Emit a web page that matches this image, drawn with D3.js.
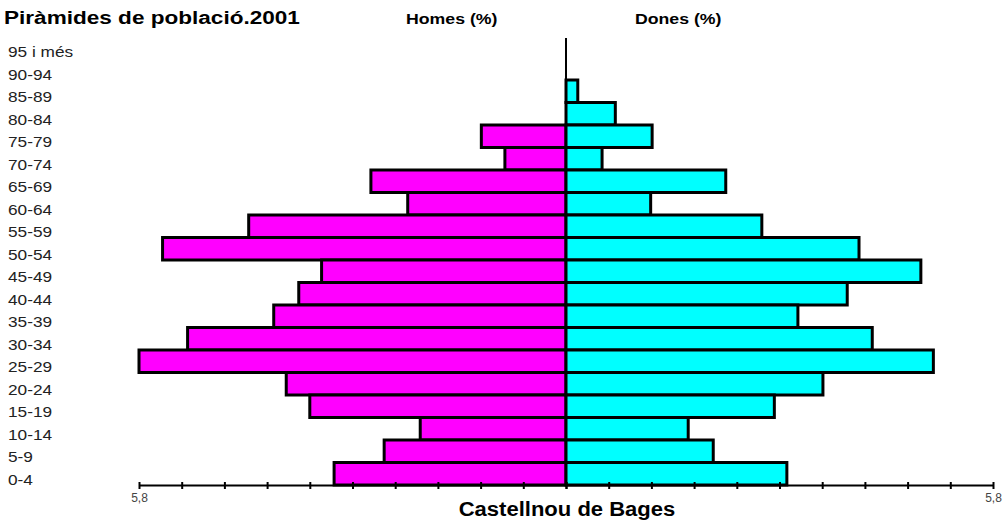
<!DOCTYPE html>
<html>
<head>
<meta charset="utf-8">
<script src="https://cdn.jsdelivr.net/npm/d3@7"></script>
<style>
  body { margin: 0; background: #fff; }
  text { font-family: "Liberation Sans", Arial, sans-serif; }
</style>
</head>
<body>
<div id="chart"></div>
<script>
"use strict"

// age groups, top to bottom
let ageGroups = ["95 i més", "90-94", "85-89", "80-84", "75-79", "70-74", "65-69", "60-64",
    "55-59", "50-54", "45-49", "40-44", "35-39", "30-34", "25-29", "20-24",
    "15-19", "10-14", "5-9", "0-4"];

// percentages, same order as ageGroups
let homes = [0, 0, 0, 0, 1.15, 0.83, 2.65, 2.15, 4.31, 5.48, 3.32, 3.63, 3.97, 5.14, 5.80, 3.80,
    3.48, 1.98, 2.47, 3.15];
let dones = [0, 0, 0.16, 0.67, 1.17, 0.49, 2.17, 1.15, 2.66, 3.98, 4.82, 3.82, 3.15, 4.16, 4.99, 3.49,
    2.83, 1.66, 2.00, 3.00];

let axisMax = 5.8;
let tickStep = 0.58;

let width = 1006, height = 525;
let center = 566;
let stretch = 1.18;   // the original text is wider than plain Arial

let svg = d3.select("#chart").append("svg")
    .attr("width", width)
    .attr("height", height);

let y = d3.scaleBand()
    .domain(ageGroups)
    .range([35, 485])
    .padding(0);

let xLeft = d3.scaleLinear().domain([0, axisMax]).range([center, 139]);
let xRight = d3.scaleLinear().domain([0, axisMax]).range([center, 993]);

function wideText(x, yPos, txt, size, bold, anchor, sx) {
    return svg.append("text")
        .attr("transform", "translate(" + x + "," + yPos + ") scale(" + (sx || stretch) + ",1)")
        .attr("text-anchor", anchor || "start")
        .style("font-size", size + "px")
        .style("font-weight", bold ? "bold" : "normal")
        .text(txt);
}

// titles
wideText(4, 24, "Piràmides de població.2001", 18.5, true, "start", 1.22);
wideText(406, 24, "Homes (%)", 15, true);
wideText(635, 24, "Dones (%)", 15, true);
wideText(567, 516, "Castellnou de Bages", 19.5, true, "middle", 1.13);

// age labels
ageGroups.forEach(function(d) {
    wideText(8, y(d) + y.bandwidth() / 2 + 11, d, 15, false, "start", 1.15)
        .style("fill", "#222");
});

// bars
svg.selectAll(".homesBar")
    .data(ageGroups.filter((d, i) => homes[i] > 0))
    .enter().append("rect")
    .attr("class", "homesBar")
    .attr("x", d => xLeft(homes[ageGroups.indexOf(d)]))
    .attr("y", d => y(d))
    .attr("width", d => center - xLeft(homes[ageGroups.indexOf(d)]))
    .attr("height", y.bandwidth())
    .style("fill", "#ff00ff")
    .style("stroke", "#000")
    .style("stroke-width", "3px");

svg.selectAll(".donesBar")
    .data(ageGroups.filter((d, i) => dones[i] > 0))
    .enter().append("rect")
    .attr("class", "donesBar")
    .attr("x", center)
    .attr("y", d => y(d))
    .attr("width", d => xRight(dones[ageGroups.indexOf(d)]) - center)
    .attr("height", y.bandwidth())
    .style("fill", "#00ffff")
    .style("stroke", "#000")
    .style("stroke-width", "3px");

// center line
svg.append("line")
    .attr("x1", center).attr("x2", center)
    .attr("y1", 38).attr("y2", 485)
    .style("stroke", "#000")
    .style("stroke-width", "2px");

// bottom axis, one per side
let ticks = d3.range(0, 11).map(i => i * tickStep);
let fmt = v => (Math.abs(v - axisMax) < 1e-9 ? "5,8" : "");

svg.append("g")
    .attr("transform", "translate(0,485)")
    .call(d3.axisBottom(xLeft).tickValues(ticks).tickFormat(fmt).tickSizeInner(4).tickSizeOuter(0));
svg.append("g")
    .attr("transform", "translate(0,485)")
    .call(d3.axisBottom(xRight).tickValues(ticks).tickFormat(fmt).tickSizeInner(4).tickSizeOuter(0));

svg.selectAll(".domain").style("stroke", "#000").style("stroke-width", "2px");
svg.selectAll(".tick line")
    .attr("y1", -3)
    .style("stroke", "#000").style("stroke-width", "2px");
svg.selectAll(".tick text")
    .attr("y", 8)
    .style("font-size", "12px")
    .style("fill", "#444")
    .style("font-family", "'Liberation Sans', Arial, sans-serif");
</script>
</body>
</html>
